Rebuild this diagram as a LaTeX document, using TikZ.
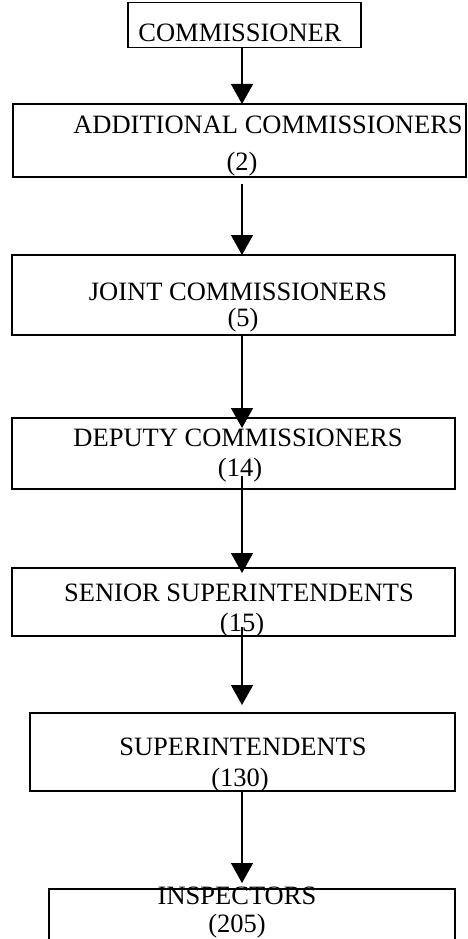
\documentclass[tikz,border=0pt]{standalone}
\usepackage{fontspec}
\setmainfont{Liberation Serif}
\usetikzlibrary{arrows.meta}
\begin{document}
\begin{tikzpicture}[x=1pt,y=-1pt,
  box/.style={draw=black,line width=1.2pt,rectangle,inner sep=0pt},
  lbl/.style={anchor=base,inner sep=0pt,font=\fontsize{26.5}{30}\selectfont},
  conn/.style={line width=1.4pt,-{Triangle[length=20pt,width=22pt]}}]
\useasboundingbox (0,0) rectangle (467,939);
\clip (0,0) rectangle (467,939);
\fill[white] (0,0) rectangle (467,939);
% boxes
\node[box,minimum width=233pt,minimum height=45pt] (b1) at (244.5,25) {};
\node[box,minimum width=453pt,minimum height=73pt] (b2) at (239.5,140.5) {};
\node[box,minimum width=443pt,minimum height=80pt] (b3) at (233.5,295) {};
\node[box,minimum width=443pt,minimum height=71pt] (b4) at (233.5,453.5) {};
\node[box,minimum width=443pt,minimum height=68pt] (b5) at (233.5,602) {};
\node[box,minimum width=425pt,minimum height=78pt] (b6) at (242.5,752) {};
\node[box,minimum width=406pt,minimum height=80pt] (b7) at (252,929) {};
% texts
\node[lbl] (t1) at (240,42) {COMMISSIONER};
\node[lbl] (t2a) at (268,133) {ADDITIONAL COMMISSIONERS};
\node[lbl] (t2b) at (242,170) {(2)};
\node[lbl] (t3a) at (238,300) {JOINT COMMISSIONERS};
\node[lbl] (t3b) at (243,326) {(5)};
\node[lbl] (t4a) at (238,446) {DEPUTY COMMISSIONERS};
\node[lbl] (t4b) at (240,476) {(14)};
\node[lbl] (t5a) at (239,601) {SENIOR SUPERINTENDENTS};
\node[lbl] (t5b) at (242,631) {(15)};
\node[lbl] (t6a) at (243,755) {SUPERINTENDENTS};
\node[lbl] (t6b) at (240,786) {(130)};
\node[lbl] (t7a) at (237,904) {INSPECTORS};
\node[lbl] (t7b) at (237,932) {(205)};
% connector end points
\coordinate (s1) at (242,47);
\coordinate (e1) at (242,104);
\coordinate (s2) at (242,184);
\coordinate (e2) at (242,255);
\coordinate (s3) at (242,335);
\coordinate (e3) at (242,428);
\coordinate (s4) at (242,476);
\coordinate (e4) at (242,573);
\coordinate (s5) at (242,627);
\coordinate (e5) at (242,705);
\coordinate (s6) at (242,791);
\coordinate (e6) at (242,883);
\draw[conn] (s1) -- (e1);
\draw[conn] (s2) -- (e2);
\draw[conn] (s3) -- (e3);
\draw[conn] (s4) -- (e4);
\draw[conn] (s5) -- (e5);
\draw[conn] (s6) -- (e6);
\end{tikzpicture}
\end{document}
